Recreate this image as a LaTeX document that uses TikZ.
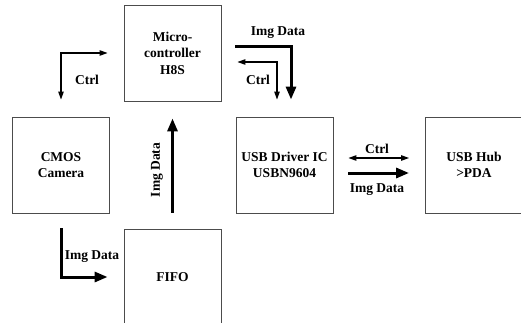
\documentclass[tikz,border=0pt]{standalone}
\usepackage{fontspec}
\setmainfont{Liberation Serif}
\usetikzlibrary{arrows.meta,calc}
\begin{document}
\begin{tikzpicture}[x=1pt,y=-1pt,
 box/.style={draw=black!70,line width=0.9pt,minimum width=97pt,minimum height=96pt,inner sep=0pt,align=center,font=\bfseries\fontsize{13.5}{16.5}\selectfont},
 lbl/.style={font=\bfseries\fontsize{13.5}{15}\selectfont,inner sep=0pt},
 thinarr/.style={line width=1.1pt,-{Triangle[length=8pt,width=5.5pt]}},
 thinboth/.style={line width=1.1pt,{Triangle[length=8pt,width=5.5pt]}-{Triangle[length=8pt,width=5.5pt]}},
 thickarr/.style={line width=3pt,-{Triangle[length=13pt,width=10pt]}}]
\useasboundingbox (0,0) rectangle (521,323);
\node[box] (mc) at (172.5,53) {Micro-\\controller\\H8S};
\node[box] (cmos) at (61,165) {CMOS\\Camera};
\node[box] (fifo) at (172.5,277) {FIFO};
\node[box] (usb) at (284.5,165) {USB Driver IC\\USBN9604};
\node[box] (hub) at (474,165) {USB Hub\\>PDA};

\draw[thinboth] ($(mc.west)+(-16,0)$) -| ($(cmos.north)+(0,-17)$);
\node[lbl] (l1) at (87,80) {Ctrl};

\draw[thickarr] ($(mc.east)+(14,-6)$) -| ($(usb.north)+(6.5,-17)$);
\node[lbl] (l2) at (278,33) {Img Data};

\draw[thinboth] ($(usb.north)+(-7.5,-17)$) |- ($(mc.east)+(16,9)$);
\node[lbl] (l3) at (258,80) {Ctrl};

\draw[thickarr] ($(fifo.north)+(0,-16)$) -- ($(mc.south)+(0,17)$);
\node[lbl,rotate=90] (l4) at (157,170) {Img Data};

\draw[thickarr] ($(cmos.south)+(0,15)$) |- ($(fifo.west)+(-16,0)$);
\node[lbl] (l5) at (92,257) {Img Data};

\draw[thinboth] ($(usb.east)+(15,-7)$) -- ($(hub.west)+(-16,-7)$);
\node[lbl] (l6) at (377,149) {Ctrl};
\draw[thickarr] ($(usb.east)+(15,8)$) -- ($(hub.west)+(-16,8)$);
\node[lbl] (l7) at (377,190) {Img Data};
\end{tikzpicture}
\end{document}
